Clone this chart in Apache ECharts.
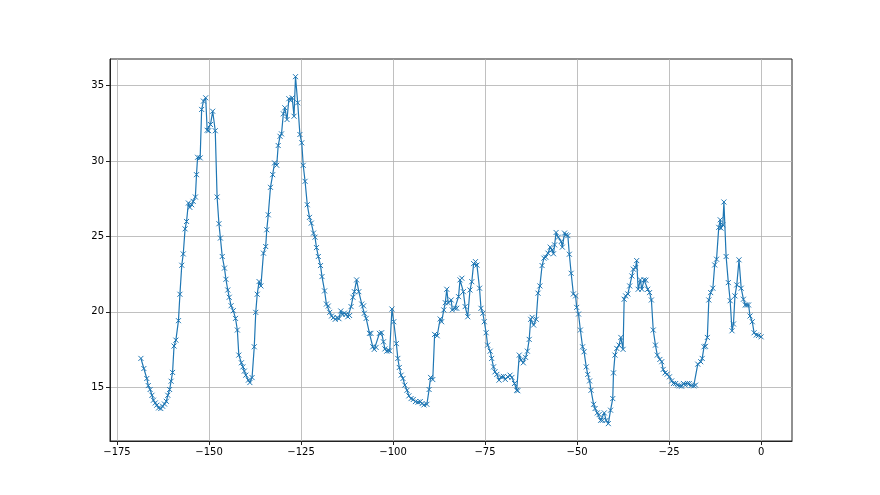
<!DOCTYPE html>
<html>
<head>
<meta charset="utf-8">
<script src="https://cdn.jsdelivr.net/npm/echarts@6/dist/echarts.min.js"></script>
<style>
html,body{margin:0;padding:0;background:#fff;}
#chart{width:880px;height:495px;}
</style>
</head>
<body>
<div id="chart"></div>
<script>
var xValues = [
-168.5,-167.7,-166.9,-166.5,-166.0,-165.5,-165.1,-164.6,-164.2,-163.7,-163.1,-162.6,-162.1,-161.6,-161.2,-160.7,-160.3,-159.9,-159.5,-159.0,
-158.3,-157.9,-157.4,-157.0,-156.5,-156.1,-155.6,-155.2,-154.7,-154.3,-153.7,-153.4,-153.1,-152.4,-152.0,-151.5,-150.9,-150.5,-150.1,-149.6,
-149.0,-148.3,-147.8,-147.3,-146.9,-146.4,-145.8,-145.4,-144.9,-144.5,-144.0,-143.4,-142.8,-142.3,-141.9,-141.2,-140.8,-140.4,-140.0,-139.3,
-138.9,-138.3,-137.7,-137.3,-136.9,-136.4,-135.9,-135.2,-134.6,-134.3,-133.9,-133.3,-132.7,-132.2,-131.6,-131.2,-130.7,-130.3,-129.8,-129.4,
-128.8,-128.3,-127.8,-127.4,-126.9,-126.5,-125.9,-125.3,-124.8,-124.4,-123.9,-123.3,-122.7,-122.2,-121.6,-121.2,-120.8,-120.3,-119.7,-119.3,
-118.6,-118.1,-117.6,-117.2,-116.7,-116.2,-115.7,-115.2,-114.7,-114.2,-113.8,-113.2,-112.8,-112.3,-111.8,-111.4,-110.9,-110.5,-109.9,-109.3,
-108.5,-108.0,-107.8,-107.3,-106.4,-106.0,-105.5,-105.1,-104.6,-103.7,-103.1,-102.6,-102.2,-101.7,-101.3,-100.9,-100.3,-99.8,-99.1,-98.7,
-98.3,-97.8,-97.3,-96.8,-96.2,-95.7,-95.1,-94.5,-93.9,-93.2,-92.6,-92.1,-91.6,-90.8,-90.2,-89.8,-89.2,-88.7,-88.0,-87.2,
-86.8,-86.2,-85.8,-85.4,-85.0,-84.2,-83.9,-83.2,-82.7,-82.2,-81.8,-81.3,-80.9,-80.4,-79.7,-79.1,-78.6,-78.1,-77.6,-77.2,
-76.5,-76.1,-75.6,-75.2,-74.7,-74.3,-73.6,-73.2,-72.7,-72.3,-71.8,-71.2,-70.6,-70.0,-69.5,-68.8,-68.2,-67.7,-67.0,-66.4,
-66.1,-65.7,-65.2,-64.6,-64.0,-63.5,-63.0,-62.6,-62.2,-61.8,-61.1,-60.6,-60.1,-59.5,-59.0,-58.5,-57.9,-57.3,-56.8,-56.4,
-56.1,-55.7,-55.1,-54.3,-54.0,-53.4,-53.0,-52.5,-52.1,-51.6,-51.0,-50.4,-50.1,-49.6,-49.1,-48.5,-48.1,-47.5,-47.1,-46.6,
-46.2,-45.5,-45.1,-44.5,-44.0,-43.6,-43.1,-42.6,-42.1,-41.5,-40.9,-40.3,-40.1,-39.7,-39.2,-38.6,-38.1,-37.5,-37.2,-36.8,
-36.2,-35.7,-35.1,-34.7,-34.1,-33.8,-33.4,-32.8,-32.4,-31.8,-31.3,-30.8,-30.3,-29.8,-29.3,-28.7,-28.2,-27.5,-27.0,-26.6,
-26.1,-25.5,-24.9,-24.3,-23.8,-23.2,-22.7,-22.2,-21.6,-21.1,-20.6,-20.0,-19.5,-19.0,-18.3,-17.8,-17.2,-16.4,-16.0,-15.5,
-15.1,-14.6,-14.2,-13.7,-13.1,-12.6,-12.1,-11.5,-11.1,-10.9,-10.4,-10.1,-9.5,-8.9,-8.4,-7.9,-7.5,-7.1,-6.6,-6.0,
-5.4,-4.8,-4.3,-3.9,-3.4,-3.0,-2.4,-1.9,-1.3,-0.7,0.0
];
var yValues = [
16.92,16.25,15.59,15.12,14.86,14.48,14.15,13.97,13.82,13.64,13.60,13.75,13.90,14.08,14.48,14.86,15.41,15.99,17.74,18.13,
19.42,21.17,23.09,23.84,25.50,25.99,27.21,26.92,27.10,27.32,27.61,29.09,30.24,30.20,33.41,33.96,34.18,32.03,32.00,32.41,
33.29,32.00,27.61,25.84,24.89,23.67,22.90,22.16,21.45,20.97,20.41,20.08,19.57,18.80,17.14,16.63,16.36,16.08,15.81,15.48,
15.32,15.65,17.69,19.97,21.17,22.01,21.72,23.89,24.33,25.44,26.43,28.25,29.09,29.87,29.71,31.02,31.63,31.79,33.12,33.52,
32.74,34.12,34.00,34.18,32.96,35.58,33.85,31.75,31.20,29.71,28.65,27.10,26.26,25.88,25.22,24.95,24.26,23.67,23.07,22.34,
21.39,20.52,20.39,19.97,19.73,19.62,19.51,19.62,19.55,20.06,19.84,19.92,19.84,19.68,19.76,20.35,20.97,21.34,22.12,21.34,
20.52,20.40,19.91,19.57,18.58,18.58,17.69,17.52,17.65,18.58,18.62,18.02,17.55,17.40,17.45,17.42,20.19,19.35,17.90,16.92,
16.32,15.81,15.59,15.15,14.81,14.44,14.26,14.20,14.06,14.02,14.06,13.93,13.84,13.88,14.86,15.66,15.52,18.51,18.42,19.53,
19.35,20.13,20.61,21.50,20.60,20.79,20.13,20.24,20.24,21.01,22.12,22.23,21.34,20.35,19.68,21.45,22.00,23.20,23.33,23.10,
21.57,20.24,19.91,19.35,18.62,17.80,17.40,16.92,16.36,16.03,15.86,15.48,15.70,15.73,15.53,15.70,15.81,15.66,15.26,14.81,
14.78,17.14,16.81,16.63,16.99,17.40,18.18,19.51,19.64,19.13,19.51,21.24,21.72,23.07,23.56,23.62,23.89,24.29,24.10,23.85,
24.44,25.26,24.95,24.66,24.29,25.22,25.10,25.05,23.82,22.56,21.19,21.06,20.30,19.86,18.80,17.69,17.36,16.36,15.86,15.43,
14.81,13.88,13.60,13.31,13.20,12.82,12.82,13.31,12.82,12.60,13.49,14.26,15.96,17.14,17.58,17.80,18.31,17.52,20.84,21.06,
21.19,21.72,22.38,22.83,22.93,23.40,21.50,22.12,21.50,22.12,22.10,21.50,21.28,20.79,18.80,17.80,17.14,16.85,16.70,16.19,
15.96,15.88,15.70,15.43,15.26,15.26,15.15,15.10,15.08,15.26,15.15,15.26,15.26,15.12,15.10,15.15,16.54,16.70,16.92,17.69,
17.72,18.31,20.79,21.28,21.57,23.11,23.49,25.60,26.10,25.55,25.77,27.28,23.67,21.94,20.74,18.75,19.20,21.06,21.79,23.45,
21.57,20.84,20.46,20.46,20.46,19.73,19.35,18.62,18.47,18.44,18.35
];
var xTicks = [-175, -150, -125, -100, -75, -50, -25, 0];
var yTicks = [15, 20, 25, 30, 35];

var points = xValues.map(function (x, i) { return [x, yValues[i]]; });
function fmt(v) { return String(v).replace('-', '\u2212'); }

var chart = echarts.init(document.getElementById('chart'), null, {renderer: 'canvas'});
chart.setOption({
  animation: false,
  backgroundColor: '#ffffff',
  grid: {left: 110, right: 88, top: 59, bottom: 54, show: true, borderColor: '#222', borderWidth: 1, backgroundColor: 'transparent'},
  xAxis: {
    type: 'value', min: -176.9, max: 8.4,
    axisLine: {show: true, onZero: false, lineStyle: {color: '#222', width: 1}},
    axisTick: {show: true, customValues: xTicks, length: 4, lineStyle: {color: '#222'}},
    axisLabel: {customValues: xTicks, formatter: fmt, color: '#000', fontFamily: 'DejaVu Sans', fontSize: 10, margin: 6},
    splitLine: {show: true, lineStyle: {color: '#b0b0b0', width: 0.8}}
  },
  yAxis: {
    type: 'value', min: 11.45, max: 36.75,
    axisLine: {show: true, onZero: false, lineStyle: {color: '#222', width: 1}},
    axisTick: {show: true, customValues: yTicks, length: 4, lineStyle: {color: '#222'}},
    axisLabel: {customValues: yTicks, formatter: fmt, color: '#000', fontFamily: 'DejaVu Sans', fontSize: 10, margin: 6},
    splitLine: {show: true, lineStyle: {color: '#b0b0b0', width: 0.8}}
  },
  series: [{
    type: 'line',
    data: points,
    showAllSymbol: true,
    symbol: 'path://M0,0L10,10M10,0L0,10',
    symbolSize: 5,
    lineStyle: {color: '#1f77b4', width: 1.2},
    itemStyle: {color: '#1f77b4', borderColor: '#1f77b4', borderWidth: 1},
    z: 3
  }]
});
</script>
</body>
</html>
